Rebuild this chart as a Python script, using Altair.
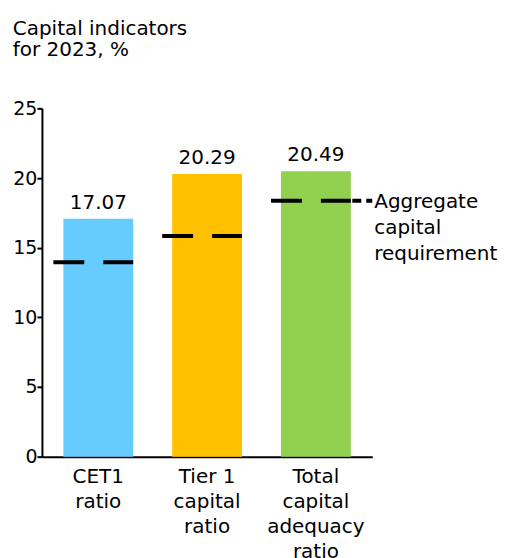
import altair as alt
import pandas as pd

categories = ["CET1\nratio", "Tier 1\ncapital\nratio", "Total\ncapital\nadequacy\nratio"]
values = [17.07, 20.29, 20.49]
requirements = [13.95, 15.83, 18.36]
colors = ["#66CCFF", "#FFC000", "#92D050"]
value_labels = ["17.07", "20.29", "20.49"]
legend_label = ["Aggregate", "capital", "requirement"]
y_ticks = [0, 5, 10, 15, 20, 25]
title_lines = ["Capital indicators", "for 2023, %"]

FONT = "DejaVu Sans"
FS = 20
FS_TICK = 19
W, H = 331, 349

df = pd.DataFrame({
    "cat": categories,
    "value": values,
    "req": requirements,
    "color": colors,
    "lbl": value_labels,
})

xscale = alt.Scale(paddingInner=0.358, paddingOuter=0.197)
xenc = alt.X(
    "cat:N", sort=categories, scale=xscale,
    axis=alt.Axis(
        title=None, labelAngle=0, ticks=False,
        labelExpr="split(datum.label, '\\n')",
        labelLineHeight=25, labelPadding=10,
        domainColor="black", domainWidth=2,
        labelFont=FONT, labelFontSize=FS, labelColor="black",
    ),
)
yenc = alt.Y(
    "value:Q", scale=alt.Scale(domain=[0, 25], nice=False),
    axis=alt.Axis(
        title=None, values=y_ticks, grid=False,
        tickSize=5, tickWidth=2, tickColor="black",
        domainColor="black", domainWidth=2,
        labelPadding=0, labelFont=FONT, labelFontSize=FS_TICK, labelColor="black",
    ),
)

base = alt.Chart(df)

bars = base.mark_bar().encode(
    x=xenc, y=yenc,
    color=alt.Color("color:N", scale=None),
)

texts = base.mark_text(
    baseline="alphabetic", dy=-10, font=FONT, fontSize=FS, color="black"
).encode(
    x=alt.X("cat:N", sort=categories), y="value:Q", text="lbl:N"
)

rules = base.mark_rule(
    color="black", strokeWidth=4, strokeDash=[31, 19, 40], strokeCap="butt", xOffset=-10
).encode(
    x=alt.X("cat:N", sort=categories, bandPosition=0),
    x2=alt.X2("cat:N", bandPosition=1),
    y=alt.Y("req:Q"),
)

leg_df = pd.DataFrame({"req": [requirements[-1]]})
leg_rule = alt.Chart(leg_df).mark_rule(
    color="black", strokeWidth=4, strokeDash=[9, 5, 6], strokeCap="butt"
).encode(
    x=alt.value(W - 20), x2=alt.value(W), y=alt.Y("req:Q"),
)
leg_text = alt.Chart(leg_df).mark_text(
    align="left", baseline="alphabetic", dy=7, dx=2, lineHeight=26,
    font=FONT, fontSize=FS, color="black",
).encode(
    x=alt.value(W), y=alt.Y("req:Q"), text=alt.value(legend_label),
)

chart = alt.layer(bars, texts, rules, leg_rule, leg_text).properties(
    width=W, height=H,
    title=alt.Title(
        title_lines, anchor="start", frame="bounds", fontSize=FS,
        fontWeight="normal", font=FONT, color="black", lineHeight=22, offset=39,
    ),
    padding={"left": 4, "top": 10, "right": 0, "bottom": 0},
).configure_view(stroke=None)

chart.save("out.html", embed_options={"renderer": "svg", "actions": False})
